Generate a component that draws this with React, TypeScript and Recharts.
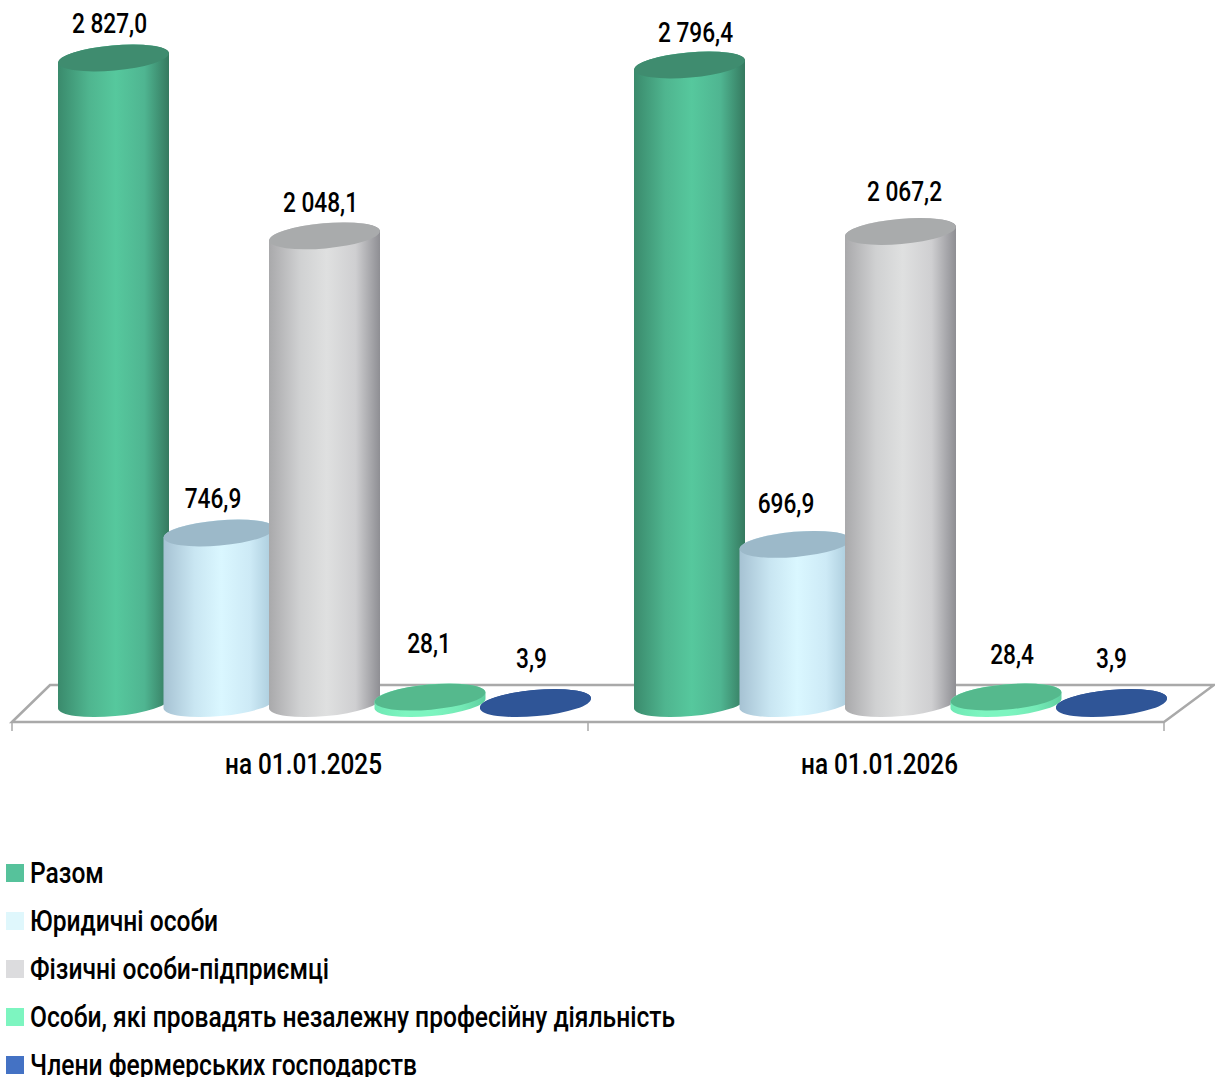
import { BarChart, Bar, XAxis, YAxis, Legend, LabelList, usePlotArea } from 'recharts';

const FONT = 'Roboto, sans-serif';
const NARROW = 0.81; // the source uses a condensed face, none installed
const NARROW_LEGEND = 0.82;

const categories = ['на 01.01.2025', 'на 01.01.2026'];
const seriesNames = [
  'Разом',
  'Юридичні особи',
  'Фізичні особи-підприємці',
  'Особи, які провадять незалежну професійну діяльність',
  'Члени фермерських господарств',
];
const total = [2827.0, 2796.4];
const legal = [746.9, 696.9];
const individuals = [2048.1, 2067.2];
const independent = [28.1, 28.4];
const farmers = [3.9, 3.9];
const seriesValues = [total, legal, individuals, independent, farmers];

const legendColors = ['#56c29b', '#dff7fc', '#dcdcde', '#7df5c0', '#4472c4'];
// left edge, shoulder, centre, right shoulder, right edge, top cap
const shades = [
  ['#3a8a6c', '#4fb58f', '#56c89d', '#4fb591', '#35795f', '#3f8c6f'],
  ['#a6c2d3', '#c9e6f2', '#daf7ff', '#cdeaf6', '#a8c9da', '#9cb9c9'],
  ['#a9a9ab', '#d0d1d2', '#dfe0e0', '#cfcfd1', '#8e8e93', '#a9abac'],
  ['#6fe8b4', '#7df5c0', '#7df5c0', '#74eab6', '#5fcfa0', '#55b98d'],
  ['#2f5597', '#2f5597', '#2f5597', '#2f5597', '#2f5597', '#2f5597'],
];
const stops = ['0%', '28%', '52%', '78%', '100%'];
// hand placed value labels in the source chart: [dx, dy] per series and category
const labelNudge = [
  [[-4, -35], [6, -33]],
  [[-6, -35], [-9, -41]],
  [[-4, -34], [4, -40]],
  [[-1, -54], [6, -43]],
  [[-4, -44], [0, -44]],
];

const rows = categories.map((name, i) => {
  const row: any = { name };
  seriesValues.forEach((vals, s) => {
    row[`s${s}`] = vals[i];
  });
  return row;
});

// floor depth of the fake 3D box, bars stand about halfway in
const DEPTH_X = 50;
const DEPTH_Y = 37;
const BAR_DX = 24;
const RX = 55.5;
const RY = 12.6;
const TILT = -5;
const TILT_DY = 5;

const fmt = (v: number) => {
  const [a, b] = v.toFixed(1).split('.');
  return `${a.replace(/\B(?=(\d{3})+$)/g, ' ')},${b}`;
};

function Floor() {
  const area = usePlotArea();
  if (!area) return null;
  const { x, y, width, height } = area;
  const b = y + height;
  const pts = `${x},${b} ${x + DEPTH_X - 12},${b - DEPTH_Y} ${x + width + DEPTH_X},${b - DEPTH_Y} ${x + width},${b}`;
  return <polygon points={pts} fill="#fff" stroke="#a9a9a9" strokeWidth={2.5} />;
}

const cylinder = (s: number) => (props: any) => {
  const { x, y, width, height } = props;
  const cx = x + width / 2 + BAR_DX;
  const top = y - DEPTH_Y / 2;
  const bot = top + height;
  const l = cx - RX;
  const r = cx + RX;
  const body = `M${l},${top + TILT_DY} L${l},${bot + TILT_DY} A${RX} ${RY} ${TILT} 0 0 ${r},${bot - TILT_DY} L${r},${top - TILT_DY} A${RX} ${RY} ${TILT} 0 0 ${l},${top + TILT_DY} Z`;
  return (
    <g>
      <path d={body} fill={`url(#cyl${s})`} />
      <ellipse cx={cx} cy={top} rx={RX} ry={RY} transform={`rotate(${TILT} ${cx} ${top})`} fill={shades[s][5]} />
    </g>
  );
};

const NarrowText = ({ x, y, size, children }: any) => (
  <text
    transform={`translate(${x} ${y}) scale(${NARROW} 1)`}
    textAnchor="middle"
    dominantBaseline="central"
    fontFamily={FONT}
    fontSize={size}
    fontWeight={500}
    fill="#000"
  >
    {children}
  </text>
);

const valueLabel = (s: number) => (props: any) => {
  const { x, y, width, value, index } = props;
  const [dx, dy] = labelNudge[s][index];
  return (
    <NarrowText x={x + width / 2 + BAR_DX + dx} y={y - DEPTH_Y / 2 + dy} size={28}>
      {fmt(value)}
    </NarrowText>
  );
};

const CategoryTick = (props: any) => {
  const { x, y, payload, width, visibleTicksCount } = props;
  const half = width / visibleTicksCount / 2;
  return (
    <g>
      <line x1={x - half} x2={x - half} y1={y - 8} y2={y + 1} stroke="#a9a9a9" strokeWidth={1.5} />
      {payload.index === visibleTicksCount - 1 && (
        <line x1={x + half} x2={x + half} y1={y - 8} y2={y + 1} stroke="#a9a9a9" strokeWidth={1.5} />
      )}
      <NarrowText x={x + 3.5} y={y + 34} size={30}>
        {payload.value}
      </NarrowText>
    </g>
  );
};

const LegendRows = ({ payload }: any) => (
  <div style={{ fontFamily: FONT, fontSize: 30, fontWeight: 500, color: '#000' }}>
    {payload.map((item: any) => (
      <div key={item.value} style={{ height: 48, display: 'flex', alignItems: 'center' }}>
        <span style={{ width: 18, height: 18, background: item.color, marginLeft: 6, marginRight: 6, flex: 'none' }} />
        <span
          style={{
            whiteSpace: 'nowrap',
            transform: `translateY(-1px) scaleX(${NARROW_LEGEND})`,
            transformOrigin: 'left center',
          }}
        >
          {item.value}
        </span>
      </div>
    ))}
  </div>
);

export default function App() {
  return (
    <div style={{ position: 'absolute', left: 0, top: 0, width: 1215, height: 1077, overflow: 'hidden' }}>
      <BarChart
        width={1215}
        height={1077}
        data={rows}
        barSize={111}
        barGap={-5.5}
        margin={{ top: 37, right: 51, left: 12, bottom: 325 }}
      >
        <defs>
          {shades.map((c, i) => (
            <linearGradient key={i} id={`cyl${i}`} x1="0" y1="0" x2="1" y2="0">
              {stops.map((o, k) => (
                <stop key={o} offset={o} stopColor={c[k]} />
              ))}
            </linearGradient>
          ))}
        </defs>
        <Floor />
        <XAxis dataKey="name" height={30} axisLine={false} tickLine={false} interval={0} tick={<CategoryTick />} />
        <YAxis hide domain={[0, 3000]} />
        <Legend
          layout="vertical"
          align="center"
          verticalAlign="middle"
          itemSorter={null}
          content={<LegendRows />}
          wrapperStyle={{ left: 0, top: 849, width: 900, height: 240 }}
        />
        {seriesNames.map((name, s) => (
          <Bar
            key={name}
            dataKey={`s${s}`}
            name={name}
            fill={legendColors[s]}
            shape={cylinder(s)}
            isAnimationActive={false}
          >
            <LabelList dataKey={`s${s}`} content={valueLabel(s)} />
          </Bar>
        ))}
      </BarChart>
    </div>
  );
}
